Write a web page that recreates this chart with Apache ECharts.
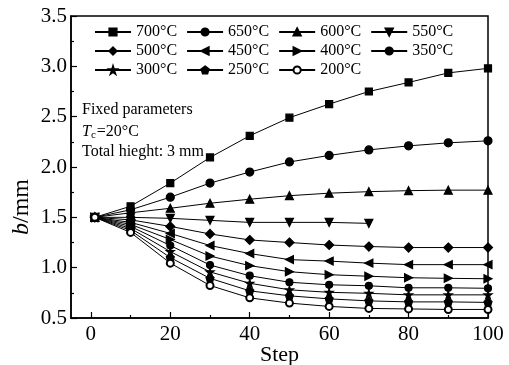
<!DOCTYPE html>
<html>
<head>
<meta charset="utf-8">
<script src="https://cdn.jsdelivr.net/npm/echarts@6/dist/echarts.min.js"></script>
<style>
  html, body { margin: 0; padding: 0; background: #fff; }
  #chart { width: 509px; height: 365px; }
</style>
</head>
<body>
<div id="chart"></div>
<script>
// steps (x) and thickness b (mm) per temperature
const steps = [1, 10, 20, 30, 40, 50, 60, 70, 80, 90, 100];
const t700 = [1.5, 1.61, 1.84, 2.095, 2.31, 2.49, 2.625, 2.75, 2.84, 2.935, 2.98];
const t650 = [1.5, 1.575, 1.70, 1.84, 1.95, 2.05, 2.115, 2.17, 2.21, 2.24, 2.26];
const t600 = [1.5, 1.545, 1.59, 1.64, 1.68, 1.715, 1.74, 1.755, 1.765, 1.77, 1.77];
const t550 = [1.5, 1.50, 1.49, 1.47, 1.45, 1.45, 1.45, 1.44];
const t500 = [1.5, 1.475, 1.41, 1.335, 1.275, 1.25, 1.225, 1.21, 1.20, 1.20, 1.20];
const t450 = [1.5, 1.45, 1.34, 1.22, 1.14, 1.08, 1.065, 1.045, 1.03, 1.03, 1.03];
const t400 = [1.5, 1.43, 1.28, 1.115, 1.02, 0.96, 0.93, 0.915, 0.90, 0.894, 0.89];
const t350 = [1.5, 1.41, 1.22, 1.026, 0.92, 0.855, 0.83, 0.82, 0.80, 0.80, 0.795];
const t300 = [1.5, 1.39, 1.16, 0.958, 0.845, 0.78, 0.755, 0.745, 0.73, 0.73, 0.73];
const t250 = [1.5, 1.37, 1.10, 0.894, 0.77, 0.72, 0.69, 0.67, 0.66, 0.66, 0.655];
const t200 = [1.5, 1.35, 1.045, 0.823, 0.70, 0.648, 0.615, 0.595, 0.59, 0.585, 0.585];

const names = ["700°C", "650°C", "600°C", "550°C", "500°C", "450°C", "400°C", "350°C", "300°C", "250°C", "200°C"];
const values = [t700, t650, t600, t550, t500, t450, t400, t350, t300, t250, t200];
const xMajor = [0, 20, 40, 60, 80, 100];
const xMinor = [10, 30, 50, 70, 90];

const FONT = "Liberation Serif";
const STAR = "path://M50,0 L61,35 L98,35 L68,57 L79,91 L50,70 L21,91 L32,57 L2,35 L39,35 Z";
const PENT = "path://M50,0 L98,36 L80,95 L20,95 L2,36 Z";

// marker per series: [symbol, size, rotate]
const marks = [
  ["rect", 7, 0],
  ["circle", 8, 0],
  ["triangle", 8, 0],
  ["triangle", 8, 180],
  ["diamond", 9, 0],
  ["triangle", 8, 90],
  ["triangle", 8, -90],
  ["circle", 7, 0],
  [STAR, 8, 0],
  [PENT, 8, 0],
  ["emptyCircle", 7, 0],
];

const chart = echarts.init(document.getElementById("chart"), null, { renderer: "canvas" });

const series = names.map((n, i) => ({
  name: n,
  type: "line",
  data: values[i].map((v, k) => [steps[k], v]),
  symbol: marks[i][0],
  symbolSize: marks[i][1],
  symbolRotate: marks[i][2],
  showAllSymbol: true,
  lineStyle: { color: "#000", width: 1 },
  itemStyle: { color: "#000", borderColor: "#000", borderWidth: 1.2 },
  emphasis: { disabled: true },
  z: 3,
}));

const legendBase = {
  left: 94,
  padding: 0,
  itemWidth: 36,
  itemHeight: 9,
  itemGap: 9,
  textStyle: { fontFamily: FONT, fontSize: 16, color: "#000" },
  inactiveColor: "#000",
  selectedMode: false,
};

const option = {
  animation: false,
  backgroundColor: "#fff",
  grid: {
    left: 71, right: 21, top: 16, bottom: 47,
    outerBoundsMode: "none",
    show: true, borderColor: "#000", borderWidth: 1.5, backgroundColor: "transparent",
  },
  legend: [
    Object.assign({}, legendBase, { top: 24, data: names.slice(0, 4) }),
    Object.assign({}, legendBase, { top: 43, data: names.slice(4, 8) }),
    Object.assign({}, legendBase, { top: 62, data: names.slice(8) }),
  ],
  xAxis: [
    {
      type: "value",
      min: -5,
      max: 100,
      splitLine: { show: false },
      axisLine: { show: true, onZero: false, lineStyle: { color: "#000", width: 1.5 } },
      axisTick: { show: true, inside: true, length: 6, customValues: xMajor, lineStyle: { color: "#000", width: 1.2 } },
      axisLabel: { customValues: xMajor, color: "#000", fontFamily: FONT, fontSize: 21, margin: 6 },
      name: "Step",
      nameLocation: "middle",
      nameGap: 26,
      nameMoveOverlap: false,
      nameTextStyle: { fontFamily: FONT, fontSize: 22, color: "#000" },
    },
    {
      type: "value",
      min: -5,
      max: 100,
      position: "bottom",
      splitLine: { show: false },
      axisLine: { show: false, onZero: false },
      axisTick: { show: true, inside: true, length: 3, customValues: xMinor, lineStyle: { color: "#000", width: 1.2 } },
      axisLabel: { show: false },
    },
  ],
  yAxis: {
    type: "value",
    min: 0.5,
    max: 3.5,
    interval: 0.5,
    splitLine: { show: false },
    axisLine: { show: true, onZero: false, lineStyle: { color: "#000", width: 1.5 } },
    axisTick: { show: true, inside: true, length: 6, lineStyle: { color: "#000", width: 1.2 } },
    minorTick: { show: true, splitNumber: 2, length: 3, lineStyle: { color: "#000", width: 1.2 } },
    axisLabel: {
      color: "#000", fontFamily: FONT, fontSize: 21, margin: 4,
      formatter: (v) => v.toFixed(1),
    },
  },
  graphic: [
    {
      type: "text", x: 22, y: 207, rotation: Math.PI / 2,
      style: {
        text: "{i|b}/mm", align: "center", verticalAlign: "middle",
        fontFamily: FONT, fontSize: 24, fill: "#000",
        rich: { i: { fontStyle: "italic", fontFamily: FONT, fontSize: 24 } },
      },
    },
    {
      type: "text", x: 82, y: 110,
      style: { text: "Fixed parameters", verticalAlign: "middle", fontFamily: FONT, fontSize: 16, fill: "#000" },
    },
    {
      type: "text", x: 82, y: 132,
      style: {
        text: "{i|T}{s|c}=20°C", verticalAlign: "middle", fontFamily: FONT, fontSize: 16, fill: "#000",
        rich: {
          i: { fontStyle: "italic", fontFamily: FONT, fontSize: 16 },
          s: { fontFamily: FONT, fontSize: 11, padding: [6, 1, 0, 0] },
        },
      },
    },
    {
      type: "text", x: 82, y: 152,
      style: { text: "Total hieght: 3 mm", verticalAlign: "middle", fontFamily: FONT, fontSize: 16, fill: "#000" },
    },
  ],
  series: series,
};

chart.setOption(option);
</script>
</body>
</html>
